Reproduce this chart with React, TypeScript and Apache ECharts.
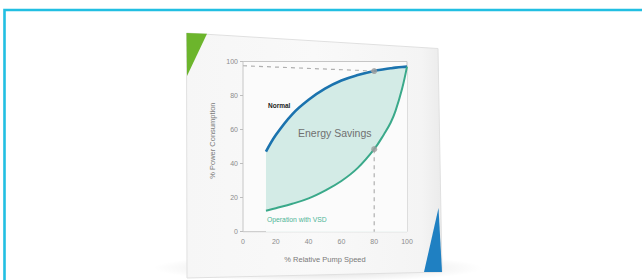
import React, { useEffect, useRef } from "react";
import * as echarts from "echarts";

// ---- data ----
const speed = [14, 20, 30, 40, 50, 60, 70, 80, 86, 90, 93, 97, 100];
const normalPower = [47, 56.8, 69, 77.5, 84, 88.8, 92, 94.4, 95.4, 96, 96.4, 96.8, 97];
const vsdPower = [12.3, 13.8, 16.4, 19.6, 24.2, 29.8, 37.5, 48.5, 57.3, 64, 71, 84, 97];
const xTickStep = 20;
const yTickStep = 20;
const markerSpeed = 80;
const markerNormal = 94.4;
const markerVsd = 48.5;
const refLevelStart = 97.5;

const FONT = "'Liberation Sans', Arial, Helvetica, sans-serif";
const PLOT_BG = "#fbfbfb";

export default function App() {
  const ref = useRef<HTMLDivElement>(null);

  useEffect(() => {
    if (!ref.current) return;
    const chart = echarts.init(ref.current, undefined, { renderer: "svg" });

    const normalPts = speed.map((s, i) => [s, normalPower[i]]);
    const vsdPts = speed.map((s, i) => [s, vsdPower[i]]);

    const option: any = {
      animation: false,
      backgroundColor: "#ffffff",
      graphic: [
        // outer cyan frame
        {
          type: "rect",
          z: -20,
          shape: { x: 4.5, y: 10, width: 700, height: 320 },
          style: { fill: "none", stroke: "#22bfe2", lineWidth: 2.6 },
        },
        // soft shadow under card
        {
          type: "ellipse",
          z: -12,
          shape: { cx: 318, cy: 268, rx: 165, ry: 14 },
          style: {
            fill: new echarts.graphic.RadialGradient(0.5, 0.5, 0.5, [
              { offset: 0, color: "rgba(0,0,0,0.16)" },
              { offset: 1, color: "rgba(0,0,0,0)" },
            ]),
          },
        },
        // card
        {
          type: "polygon",
          z: -10,
          shape: { points: [[186.5, 33], [438, 48.5], [442, 272], [187, 278]] },
          style: {
            fill: new echarts.graphic.LinearGradient(0, 0, 1, 0, [
              { offset: 0, color: "#f6f6f6" },
              { offset: 0.5, color: "#f9f9f9" },
              { offset: 0.92, color: "#f4f4f4" },
              { offset: 1, color: "#ebebeb" },
            ]),
            stroke: "#e0e0e0",
            lineWidth: 1,
          },
        },
        // green corner
        {
          type: "polygon",
          z: -9,
          shape: { points: [[186.5, 33], [207, 33.8], [187, 76]] },
          style: { fill: "#6cb52c" },
        },
        // blue corner
        {
          type: "polygon",
          z: -9,
          shape: { points: [[438.5, 208], [442, 272], [424, 272]] },
          style: { fill: "#1f80c2" },
        },
        // annotations
        {
          type: "text",
          z: 100,
          x: 268,
          y: 105,
          style: {
            text: "Normal",
            fill: "#1c1c1c",
            font: `bold 6.5px ${FONT}`,
            textAlign: "left",
            textVerticalAlign: "middle",
            align: "left",
            verticalAlign: "middle",
          },
        },
        {
          type: "text",
          z: 100,
          x: 298,
          y: 133,
          style: {
            text: "Energy Savings",
            fill: "#707070",
            font: `10.5px ${FONT}`,
            textAlign: "left",
            textVerticalAlign: "middle",
            align: "left",
            verticalAlign: "middle",
          },
        },
        {
          type: "text",
          z: 100,
          x: 267,
          y: 219,
          style: {
            text: "Operation with VSD",
            fill: "#4db597",
            font: `6.8px ${FONT}`,
            textAlign: "left",
            textVerticalAlign: "middle",
            align: "left",
            verticalAlign: "middle",
          },
        },
      ],
      grid: {
        left: 243,
        top: 61.5,
        width: 164,
        height: 170.2,
        show: true,
        backgroundColor: PLOT_BG,
        borderColor: "#c6c6c6",
        borderWidth: 1,
      },
      xAxis: {
        type: "value",
        min: 0,
        max: 100,
        interval: xTickStep,
        name: "% Relative Pump Speed",
        nameLocation: "middle",
        nameGap: 24,
        nameTextStyle: { color: "#7a7a7a", fontSize: 7.5, fontFamily: FONT },
        axisLine: { show: false },
        axisTick: { show: false },
        splitLine: { show: false },
        axisLabel: { color: "#8c8c8c", fontSize: 7, fontFamily: FONT, margin: 6 },
      },
      yAxis: {
        type: "value",
        min: 0,
        max: 100,
        interval: yTickStep,
        name: "% Power Consumption",
        nameLocation: "middle",
        nameRotate: 90,
        nameGap: 27,
        nameTextStyle: { color: "#7a7a7a", fontSize: 7.5, fontFamily: FONT, padding: [0, 0, 0, 12] },
        axisLine: { show: false },
        axisTick: { show: true, length: 3, lineStyle: { color: "#bdbdbd" } },
        splitLine: { show: false },
        axisLabel: { color: "#8c8c8c", fontSize: 7, fontFamily: FONT, margin: 5 },
      },
      series: [
        {
          type: "line",
          name: "Normal",
          data: normalPts,
          smooth: 0.4,
          symbol: "none",
          lineStyle: { color: "#1b73ae", width: 2.6 },
          areaStyle: { color: "#d3ebe6", opacity: 1, origin: "start" },
          z: 2,
        },
        {
          type: "line",
          name: "Operation with VSD",
          data: vsdPts,
          smooth: 0.4,
          symbol: "none",
          lineStyle: { color: "#3aa98a", width: 2 },
          areaStyle: { color: PLOT_BG, opacity: 1, origin: "start" },
          z: 3,
        },
        {
          type: "line",
          name: "ref-h",
          data: [
            [0, refLevelStart],
            [markerSpeed, markerNormal],
          ],
          symbol: "none",
          lineStyle: { color: "#b0b0b0", width: 1.2, type: [4, 4] },
          z: 4,
        },
        {
          type: "line",
          name: "ref-v",
          data: [
            [markerSpeed, markerVsd],
            [markerSpeed, 0],
          ],
          symbol: "none",
          lineStyle: { color: "#b0b0b0", width: 1.2, type: [4, 4] },
          z: 4,
        },
        {
          type: "scatter",
          name: "markers",
          data: [
            [markerSpeed, markerNormal],
            [markerSpeed, markerVsd],
          ],
          symbolSize: 6,
          itemStyle: { color: "#9c9c9c" },
          z: 6,
        },
      ],
    };

    chart.setOption(option);
    return () => chart.dispose();
  }, []);

  return (
    <div
      ref={ref}
      style={{ position: "absolute", left: 0, top: 0, width: 642, height: 280 }}
    />
  );
}
